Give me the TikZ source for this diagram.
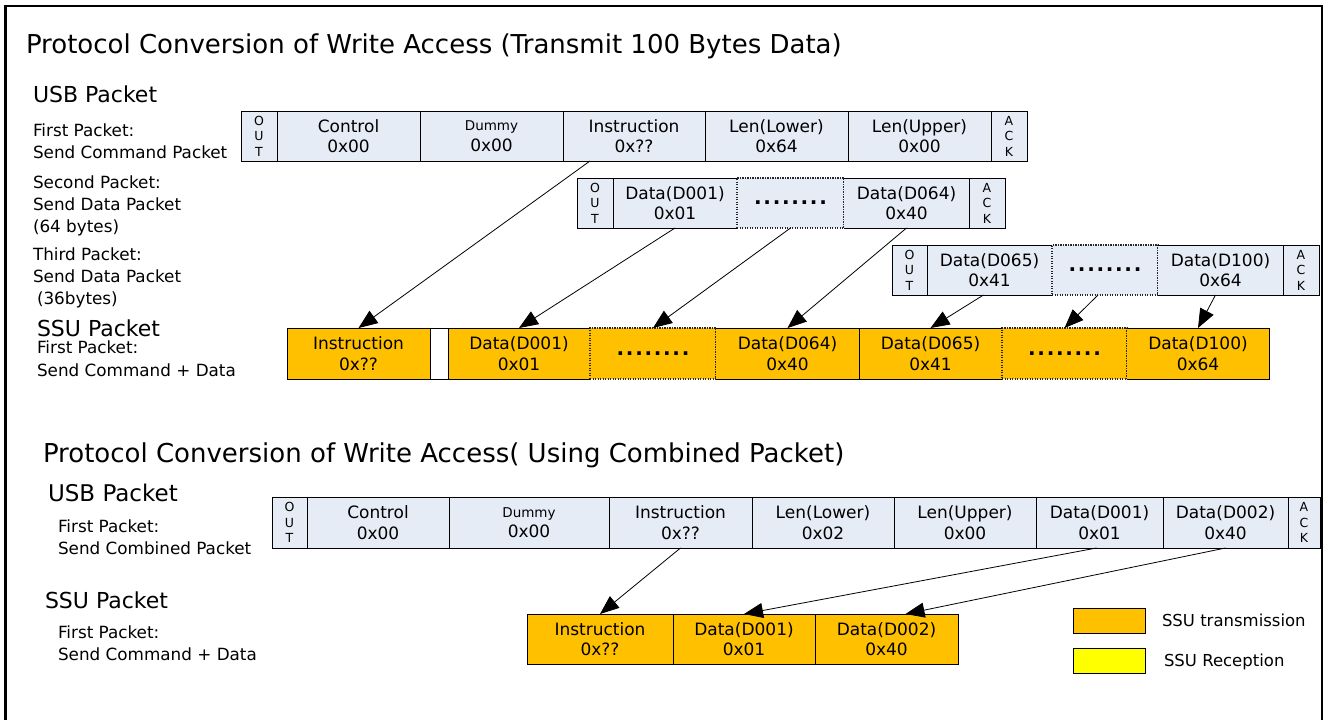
\documentclass[tikz,border=0pt]{standalone}
\usepackage{fontspec}
\setmainfont{DejaVu Sans}
\usetikzlibrary{arrows.meta}
\definecolor{usbfill}{HTML}{E6ECF6}
\definecolor{ssufill}{HTML}{FFC000}
\definecolor{rxfill}{HTML}{FFFF00}
\newcommand\myfs[2]{\fontsize{#1}{#2}\selectfont}
\newcommand\dotrow{\textbf{.\kern1.7pt.\kern1.7pt.\kern1.7pt.\kern1.7pt.\kern1.7pt.\kern1.7pt.\kern1.7pt.}}
\newcommand\cellbox[7]{%
  \pgfmathsetmacro\cellw{#4-#3}%
  \pgfmathsetmacro\cellh{#6-#5}%
  \node[#1, minimum width=\cellw pt, minimum height=\cellh pt] (#2) at ({(#3+#4)/2},{(#5+#6)/2}) {#7};%
}
\tikzset{
 cellbase/.style={rectangle, inner sep=0pt, outer sep=0pt, align=center, font=\myfs{17}{20.5}, line width=0.9pt},
 usbcell/.style={cellbase, fill=usbfill, draw=black},
 usbfillonly/.style={cellbase, fill=usbfill},
 dotline/.style={line width=1.1pt, dash pattern=on 1.2pt off 1.3pt, draw=black!85},
 usbdots/.style={cellbase, fill=usbfill, dotline, font=\myfs{20}{20}},
 ssucell/.style={cellbase, fill=ssufill, draw=black},
 ssufillonly/.style={cellbase, fill=ssufill},
 ssudots/.style={cellbase, fill=ssufill, dotline, font=\myfs{20}{20}},
 gapcell/.style={cellbase, fill=white, draw=black},
 rxcell/.style={cellbase, fill=rxfill, draw=black},
 oacell/.style={usbcell, font=\myfs{12.5}{15.5}},
 lbl/.style={anchor=base west, inner sep=0pt, outer sep=0pt, font=\myfs{16.8}{20}},
 hdr/.style={lbl, font=\myfs{22}{26}},
 ttl/.style={lbl, font=\myfs{26}{30}},
 conv/.style={line width=0.8pt, -{Triangle[length=19pt,width=15pt]}},
 edgethree/.style={line width=0.9pt}
}
\begin{document}
\begin{tikzpicture}[x=1pt,y=-1pt]
\useasboundingbox (0,0) rectangle (1327,720);
% frame
\draw[line width=2pt] (4,6) -- (1322.5,6);
\draw[line width=3pt] (5.5,4.5) -- (5.5,720);
\draw[line width=1.5pt] (1322,5) -- (1322,720);

% ---------- top section texts
\node[ttl] (t1) at (26,53) {Protocol Conversion of Write Access (Transmit 100 Bytes Data)};
\node[hdr] (usb1) at (33,102) {USB Packet};
\node[lbl] (a1) at (33,136) {First Packet:};
\node[lbl] (a2) at (33,158) {Send Command Packet};
\node[lbl] (a3) at (33,188) {Second Packet:};
\node[lbl] (a4) at (33,210) {Send Data Packet};
\node[lbl] (a5) at (33,232) {(64 bytes)};
\node[lbl] (a6) at (33,260) {Third Packet:};
\node[lbl] (a7) at (33,282) {Send Data Packet};
\node[lbl] (a8) at (37,304) {(36bytes)};
\node[hdr] (ssu1) at (37,336) {SSU Packet};
\node[lbl] (a9) at (37,353) {First Packet:};
\node[lbl] (a10) at (37,376) {Send Command + Data};

% ---------- first USB packet
\cellbox{oacell}{uOut}{241}{277}{111}{161}{O\\U\\T}
\cellbox{usbcell}{uCtl}{277}{420}{111}{161}{Control\\0x00}
\cellbox{usbcell}{uDum}{420}{563}{111}{161}{{\myfs{13.5}{20.5}Dummy}\\0x00}
\cellbox{usbcell}{uIns}{563}{705}{111}{161}{Instruction\\0x??}
\cellbox{usbcell}{uLL}{705}{848}{111}{161}{Len(Lower)\\0x64}
\cellbox{usbcell}{uLU}{848}{991}{111}{161}{Len(Upper)\\0x00}
\cellbox{oacell}{uAck}{991}{1027}{111}{161}{A\\C\\K}

% ---------- second USB packet
\cellbox{oacell}{vOut}{577}{613}{178}{228}{O\\U\\T}
\cellbox{usbfillonly}{vD1}{613}{737}{178}{228}{Data(D001)\\0x01}
\cellbox{usbdots}{vDots}{737}{844}{178}{228}{\dotrow}
\cellbox{usbfillonly}{vD64}{844}{969}{178}{228}{Data(D064)\\0x40}
\cellbox{oacell}{vAck}{969}{1005}{178}{228}{A\\C\\K}
\draw[edgethree] (vD1.north east) -- (vD1.north west) -- (vD1.south west) -- (vD1.south east);
\draw[edgethree] (vD64.north west) -- (vD64.north east) -- (vD64.south east) -- (vD64.south west);

% ---------- third USB packet
\cellbox{oacell}{wOut}{892}{927}{245}{295}{O\\U\\T}
\cellbox{usbfillonly}{wD65}{927}{1052}{245}{295}{Data(D065)\\0x41}
\cellbox{usbdots}{wDots}{1052}{1158}{245}{295}{\dotrow}
\cellbox{usbfillonly}{wD100}{1158}{1283}{245}{295}{Data(D100)\\0x64}
\cellbox{oacell}{wAck}{1283}{1319}{245}{295}{A\\C\\K}
\draw[edgethree] (wD65.north east) -- (wD65.north west) -- (wD65.south west) -- (wD65.south east);
\draw[edgethree] (wD100.north west) -- (wD100.north east) -- (wD100.south east) -- (wD100.south west);

% ---------- SSU packet (top)
\cellbox{ssucell}{sIns}{287}{430}{328}{379}{Instruction\\0x??}
\cellbox{gapcell}{sGap}{430}{448}{328}{379}{}
\cellbox{ssufillonly}{sD1}{448}{590}{328}{379}{Data(D001)\\0x01}
\cellbox{ssudots}{sDots}{590}{716}{328}{379}{\dotrow}
\cellbox{ssufillonly}{sD64}{716}{859}{328}{379}{Data(D064)\\0x40}
\cellbox{ssufillonly}{sD65}{859}{1002}{328}{379}{Data(D065)\\0x41}
\cellbox{ssudots}{sDots2}{1002}{1127}{328}{379}{\dotrow}
\cellbox{ssufillonly}{sD100}{1127}{1269}{328}{379}{Data(D100)\\0x64}
\draw[edgethree] (sD1.north east) -- (sD1.north west) -- (sD1.south west) -- (sD1.south east);
\draw[edgethree] (sD64.north west) -- (sD64.north east) -- (sD64.south east) -- (sD64.south west);
\draw[edgethree] (sD65.north east) -- (sD65.north west) -- (sD65.south west) -- (sD65.south east);
\draw[edgethree] (sD100.north west) -- (sD100.north east) -- (sD100.south east) -- (sD100.south west);

% ---------- top arrows
\draw[conv] ([xshift=-44pt]uIns.south) -- (sIns.north);
\draw[conv] (vD1.south) -- (sD1.north);
\draw[conv] (vDots.south) -- (sDots.north);
\draw[conv] (vD64.south) -- (sD64.north);
\draw[conv] ([xshift=-6pt]wD65.south) -- (sD65.north);
\draw[conv] ([xshift=-7pt]wDots.south) -- (sDots2.north);
\draw[conv] ([xshift=-5pt]wD100.south) -- (sD100.north);

% ---------- bottom section texts
\node[ttl] (t2) at (43,462) {Protocol Conversion of Write Access( Using Combined Packet)};
\node[hdr, font=\myfs{23}{26}] (usb2) at (48,501) {USB Packet};
\node[lbl] (b1) at (58,532) {First Packet:};
\node[lbl] (b2) at (58,554) {Send Combined Packet};
\node[hdr] (ssu2) at (45,608) {SSU Packet};
\node[lbl] (b3) at (58,638) {First Packet:};
\node[lbl] (b4) at (58,660) {Send Command + Data};

% ---------- combined USB packet
\cellbox{oacell}{bOut}{272}{307}{497}{548}{O\\U\\T}
\cellbox{usbcell}{bCtl}{307}{449}{497}{548}{Control\\0x00}
\cellbox{usbcell}{bDum}{449}{609}{497}{548}{{\myfs{13.5}{20.5}Dummy}\\0x00}
\cellbox{usbcell}{bIns}{609}{752}{497}{548}{Instruction\\0x??}
\cellbox{usbcell}{bLL}{752}{894}{497}{548}{Len(Lower)\\0x02}
\cellbox{usbcell}{bLU}{894}{1036}{497}{548}{Len(Upper)\\0x00}
\cellbox{usbcell}{bD1}{1036}{1163}{497}{548}{Data(D001)\\0x01}
\cellbox{usbcell}{bD2}{1163}{1288}{497}{548}{Data(D002)\\0x40}
\cellbox{oacell}{bAck}{1288}{1320}{497}{548}{A\\C\\K}

% ---------- combined SSU packet
\cellbox{ssucell}{tIns}{527}{673}{614}{664}{Instruction\\0x??}
\cellbox{ssucell}{tD1}{673}{815}{614}{664}{Data(D001)\\0x01}
\cellbox{ssucell}{tD2}{815}{958}{614}{664}{Data(D002)\\0x40}

% ---------- bottom arrows
\draw[conv] (bIns.south) -- (tIns.north);
\draw[conv] ([xshift=-3pt]bD1.south) -- (tD1.north);
\draw[conv] (bD2.south) -- ([xshift=19pt]tD2.north);

% ---------- legend
\cellbox{ssucell}{lg1}{1073}{1145}{608}{633}{}
\cellbox{rxcell}{lg2}{1073}{1145}{648}{673}{}
\node[lbl, font=\myfs{16.5}{20}] (lt1) at (1162,626) {SSU transmission};
\node[lbl, font=\myfs{16.5}{20}] (lt2) at (1164,666) {SSU Reception};
\end{tikzpicture}
\end{document}
